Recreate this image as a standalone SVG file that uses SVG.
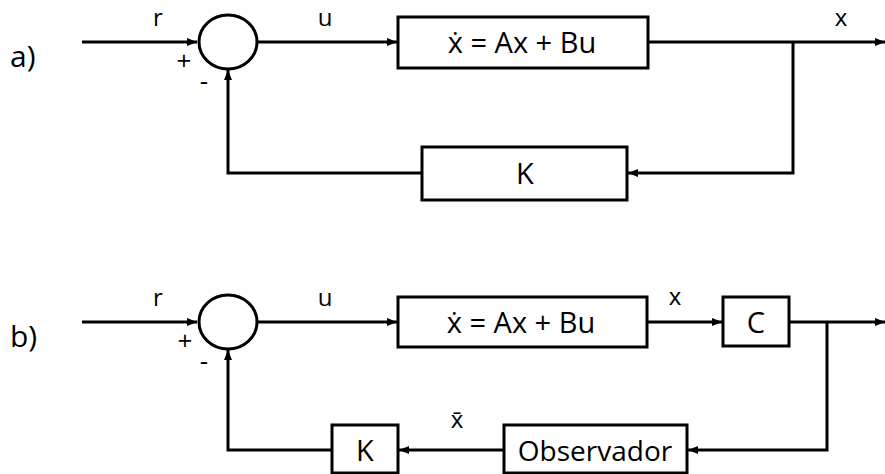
<svg xmlns="http://www.w3.org/2000/svg" width="885" height="474" viewBox="0 0 885 474">
<defs>
<marker id="arr" markerWidth="10" markerHeight="8" refX="10" refY="4" orient="auto" markerUnits="userSpaceOnUse">
<path d="M0,0 L10,4 L0,8 Z" fill="#000"/>
</marker>
<style>
.ln{fill:none;stroke:#000;stroke-width:3}
.bx{fill:#fff;stroke:#000;stroke-width:3}
.t{font-family:"Open Sans","Liberation Sans",sans-serif;fill:#000;text-anchor:middle}
.bt{font-size:29px}
.ob{font-size:28px}
.lb{font-size:24px}
.sg{font-size:26px}
.pl{font-size:30px;text-anchor:start}
</style>
</defs>
<rect width="885" height="474" fill="#fff"/>
<g id="connectors">
<path class="ln" d="M82,42 H197" marker-end="url(#arr)"/>
<path class="ln" d="M257,42 H397" marker-end="url(#arr)"/>
<path class="ln" d="M648,42 H885" marker-end="url(#arr)"/>
<path class="ln" d="M793,42 V173 H628" marker-end="url(#arr)"/>
<path class="ln" d="M422,173 H228 V70" marker-end="url(#arr)"/>
<path class="ln" d="M82,322 H197" marker-end="url(#arr)"/>
<path class="ln" d="M257,322 H397" marker-end="url(#arr)"/>
<path class="ln" d="M647,322 H722" marker-end="url(#arr)"/>
<path class="ln" d="M789,322 H885" marker-end="url(#arr)"/>
<path class="ln" d="M827,322 V450 H688" marker-end="url(#arr)"/>
<path class="ln" d="M504,450 H399" marker-end="url(#arr)"/>
<path class="ln" d="M332,450 H228 V350" marker-end="url(#arr)"/>
</g>
<g id="labels">
<text class="t pl" x="10" y="67">a)</text>
<text class="t pl" x="10" y="347">b)</text>
<text class="t lb" x="158" y="26">r</text>
<text class="t lb" x="325" y="26">u</text>
<text class="t lb" x="841" y="26">x</text>
<text class="t sg" x="184" y="70">+</text>
<text class="t sg" x="204" y="90">-</text>
<text class="t lb" x="158" y="306">r</text>
<text class="t lb" x="325" y="306">u</text>
<text class="t lb" x="675" y="305">x</text>
<text class="t sg" x="185" y="350">+</text>
<text class="t sg" x="204" y="370">-</text>
<text class="t lb" x="457" y="428">x̄</text>
</g>
<g id="sum-a"><ellipse class="bx" cx="228" cy="42" rx="29" ry="27"/></g>
<g id="plant-a"><rect class="bx" x="398" y="17" width="250" height="51"/><text class="t bt" x="522" y="53">ẋ = Ax + Bu</text></g>
<g id="gain-a"><rect class="bx" x="422" y="147" width="205" height="53"/><text class="t bt" x="525" y="184">K</text></g>
<g id="sum-b"><ellipse class="bx" cx="228" cy="322" rx="29" ry="27"/></g>
<g id="plant-b"><rect class="bx" x="398" y="297" width="249" height="50"/><text class="t bt" x="521" y="333">ẋ = Ax + Bu</text></g>
<g id="c-b"><rect class="bx" x="723" y="297" width="66" height="49"/><text class="t bt" x="756" y="333">C</text></g>
<g id="obs-b"><rect class="bx" x="504" y="425" width="183" height="48"/><text class="t ob" x="595" y="461">Observador</text></g>
<g id="gain-b"><rect class="bx" x="332" y="425" width="66" height="48"/><text class="t bt" x="365" y="461">K</text></g>
</svg>
